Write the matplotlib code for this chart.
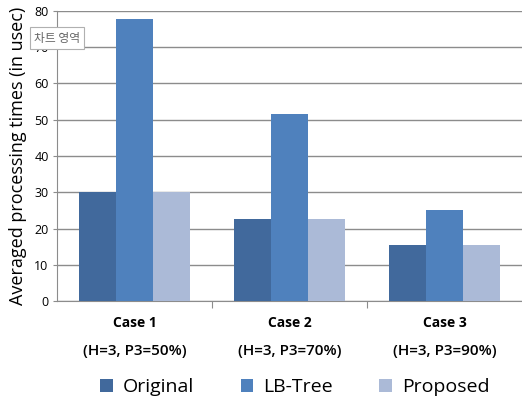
import matplotlib.pyplot as plt
import numpy as np
from matplotlib.patches import Patch

# data
cases = ['Case 1', 'Case 2', 'Case 3']
params = ['(H=3, P3=50%)', '(H=3, P3=70%)', '(H=3, P3=90%)']
original = [30, 22.7, 15.5]
lbtree = [77.8, 51.5, 25]
proposed = [30, 22.7, 15.5]
series = ['Original', 'LB-Tree', 'Proposed']
colors = ['#41699c', '#4f81bd', '#abbad7']

plt.rcParams['font.family'] = ['Open Sans', 'DejaVu Sans']

fig = plt.figure(figsize=(5.22, 4.01), dpi=100)
ax = fig.add_axes([0.109, 0.249, 0.891, 0.724])

x = np.arange(len(cases))
w = 0.24
for i, (vals, c) in enumerate(zip([original, lbtree, proposed], colors)):
    ax.bar(x + (i - 1) * w, vals, w, color=c, edgecolor='none', zorder=3)

ax.set_xlim(-0.5, 2.5)
ax.set_ylim(0, 80)
ax.set_yticks(range(0, 81, 10))
ax.yaxis.grid(True, color='#8c8c8c', lw=1, zorder=0)
for s in ['top', 'right']:
    ax.spines[s].set_visible(False)
for s in ['left', 'bottom']:
    ax.spines[s].set_color('#8c8c8c')
ax.tick_params(axis='y', labelsize=9, length=3, color='#8c8c8c', pad=3)
ax.set_xticks([0.5, 1.5])
ax.set_xticklabels([])
ax.tick_params(axis='x', length=5, color='#8c8c8c')

for i in range(3):
    ax.text(i, -0.075, cases[i], transform=ax.get_xaxis_transform(),
            ha='center', va='center', fontsize=10, fontweight='bold')
    ax.text(i, -0.17, params[i], transform=ax.get_xaxis_transform(),
            ha='center', va='center', fontsize=11, fontweight='semibold')

ax.set_ylabel('Averaged processing times (in usec)', fontsize=13, labelpad=5)

handles = [Patch(facecolor=c, edgecolor='none') for c in colors]
fig.legend(handles, series, ncol=3, loc='center', bbox_to_anchor=(0.565, 0.035),
           frameon=False, fontsize=14, handlelength=0.65, handleheight=0.65,
           handletextpad=0.5, columnspacing=2.4)

# the "chart area" tooltip sits on top of the axis, as in the screenshot
fig.text(0.065, 0.905, '차트 영역', fontsize=8.5, color='#666666', zorder=10,
         family=['Noto Sans CJK KR', 'DejaVu Sans'], ha='left', va='center',
         bbox=dict(boxstyle='square,pad=0.35', fc='white', ec='#b0b0b0', lw=0.8))

fig.savefig('out.png', dpi=100)
